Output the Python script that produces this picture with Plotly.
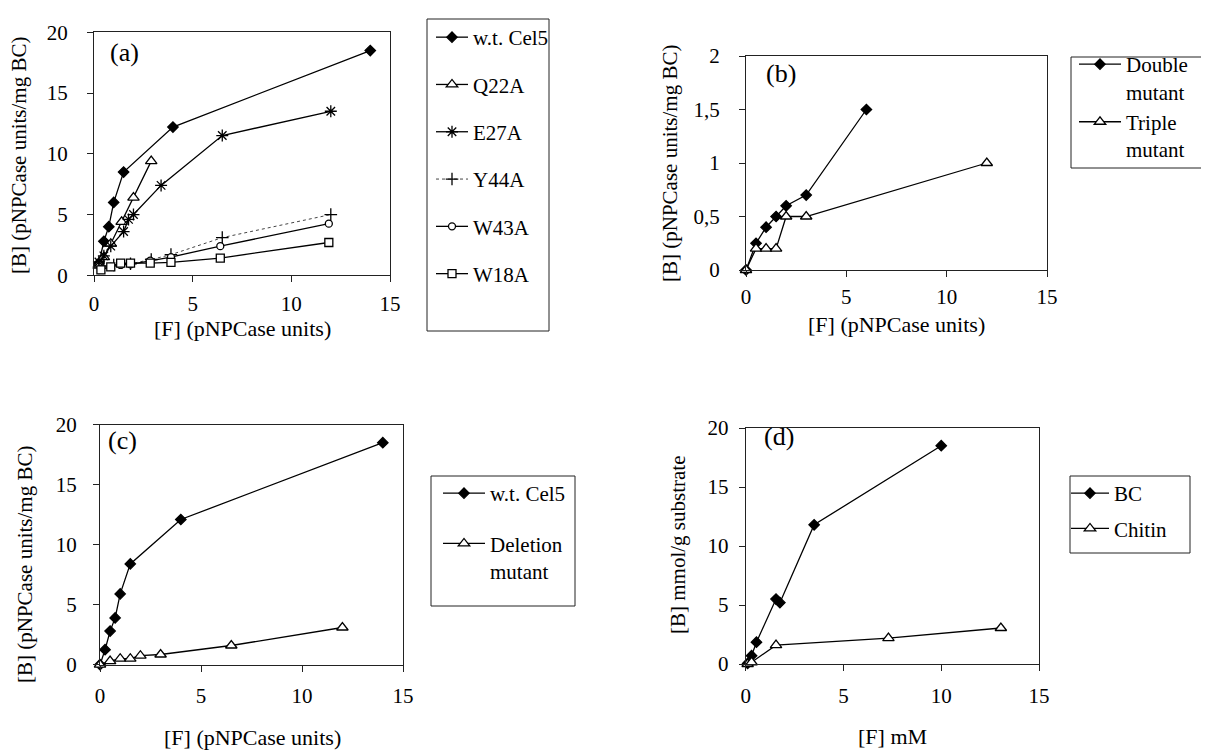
import plotly.graph_objects as go

# ---------------- data ----------------
# panel (a)
a_wt_x = [0.25, 0.5, 0.75, 1.0, 1.5, 4.0, 14.0]
a_wt_y = [1.0, 2.8, 4.0, 6.0, 8.5, 12.2, 18.5]
a_q22_x = [0.25, 0.5, 0.85, 1.4, 2.0, 2.9]
a_q22_y = [0.9, 1.5, 2.6, 4.4, 6.4, 9.4]
a_e27_x = [0.25, 0.5, 0.85, 1.5, 1.75, 2.0, 3.4, 6.5, 12.0]
a_e27_y = [1.1, 1.6, 2.4, 3.6, 4.6, 5.0, 7.4, 11.5, 13.5]
a_y44_x = [0.25, 0.5, 1.0, 1.85, 2.9, 3.9, 6.5, 12.0]
a_y44_y = [0.6, 0.75, 0.85, 0.95, 1.3, 1.7, 3.1, 5.0]
a_w43_x = [0.35, 0.85, 1.35, 1.85, 2.85, 3.9, 6.4, 11.9]
a_w43_y = [0.5, 0.7, 0.85, 0.9, 1.2, 1.5, 2.4, 4.25]
a_w18_x = [0.35, 0.85, 1.35, 1.85, 2.85, 3.9, 6.4, 11.9]
a_w18_y = [0.45, 0.7, 1.0, 1.0, 1.0, 1.07, 1.42, 2.7]
# panel (b)
b_dbl_x = [0, 0.5, 1.0, 1.5, 2.0, 3.0, 6.0]
b_dbl_y = [0, 0.25, 0.4, 0.5, 0.6, 0.7, 1.5]
b_tri_x = [0, 0.5, 1.0, 1.5, 2.0, 3.0, 12.0]
b_tri_y = [0, 0.2, 0.2, 0.2, 0.5, 0.5, 1.0]
# panel (c)
c_wt_x = [0, 0.25, 0.5, 0.75, 1.0, 1.5, 4.0, 14.0]
c_wt_y = [0, 1.25, 2.8, 3.9, 5.9, 8.4, 12.1, 18.5]
c_del_x = [0, 0.5, 1.0, 1.5, 2.0, 3.0, 6.5, 12.0]
c_del_y = [0, 0.3, 0.5, 0.5, 0.75, 0.85, 1.6, 3.1]
# panel (d)
d_bc_x = [0.1, 0.3, 0.55, 1.55, 1.75, 3.5, 10.0]
d_bc_y = [0.05, 0.7, 1.85, 5.5, 5.2, 11.8, 18.5]
d_ch_x = [0.1, 0.3, 1.55, 7.3, 13.05]
d_ch_y = [0.0, 0.15, 1.6, 2.2, 3.05]

x_ticks = [0, 5, 10, 15]
y_ticks_big = [0, 5, 10, 15, 20]
y_ticks_small = [0, 0.5, 1, 1.5, 2]

# ---------------- layout helpers ----------------
W, H = 1209, 752
FONT = "Liberation Serif"


def px(x):
    return x / W


def py(y):
    return 1 - y / H


fig = go.Figure()


def add(x, y, name, xa, ya, legend, symbol, size, width=1.3, color="black",
        fill="white", dash="solid"):
    fig.add_trace(go.Scatter(
        x=x, y=y, name=name, xaxis=xa, yaxis=ya, legend=legend,
        legendgroup=legend + name,
        mode="lines+markers", cliponaxis=False,
        line=dict(color=color, width=width, dash=dash),
        marker=dict(symbol=symbol, size=size, color=fill,
                    line=dict(color="black", width=1.3)),
    ))


add(a_wt_x, a_wt_y, "w.t. Cel5", "x", "y", "legend", "diamond", 8, fill="black")
add(a_q22_x, a_q22_y, "Q22A", "x", "y", "legend", "triangle-up", 10)
add(a_e27_x, a_e27_y, "E27A", "x", "y", "legend", "asterisk-open", 10, fill="black")
add(a_y44_x, a_y44_y, "Y44A", "x", "y", "legend", "cross-thin-open", 9,
    width=1, color="#444", fill="black", dash="dot")
add(a_w43_x, a_w43_y, "W43A", "x", "y", "legend", "circle", 7)
add(a_w18_x, a_w18_y, "W18A", "x", "y", "legend", "square", 8)

add(b_dbl_x, b_dbl_y, "Double<br>mutant", "x2", "y2", "legend2", "diamond", 8, fill="black")
add(b_tri_x, b_tri_y, "Triple<br>mutant", "x2", "y2", "legend2", "triangle-up", 10)

add(c_wt_x, c_wt_y, "w.t. Cel5", "x3", "y3", "legend3", "diamond", 8, fill="black")
add(c_del_x, c_del_y, "Deletion<br>mutant", "x3", "y3", "legend3", "triangle-up", 10)

add(d_bc_x, d_bc_y, "BC", "x4", "y4", "legend4", "diamond", 8, fill="black")
add(d_ch_x, d_ch_y, "Chitin", "x4", "y4", "legend4", "triangle-up", 10)

axcommon = dict(showline=True, linecolor="#222", linewidth=1, mirror=True,
                ticks="outside", ticklen=6, tickcolor="#222", tickwidth=1,
                showgrid=False, zeroline=False,
                tickfont=dict(family=FONT, size=21, color="black"))

# panel frames (px): (left, right, top, bottom)
panels = {
    "a": (86, 382, 24.3, 267.3),
    "b": (738, 1039, 48, 262),
    "c": (92, 395, 416.7, 656.7),
    "d": (737.7, 1031, 420, 656),
}

layout_axes = {}
for i, (key, yt, ystand, xstand) in enumerate([
        ("a", y_ticks_big, 15, 3),
        ("b", y_ticks_small, 15, 2),
        ("c", y_ticks_big, 12, 6),
        ("d", y_ticks_big, 6, 7)]):
    l, r, t, b = panels[key]
    sfx = "" if i == 0 else str(i + 1)
    layout_axes["xaxis" + sfx] = dict(
        axcommon, domain=[px(l), px(r)], anchor="y" + sfx, range=[0, 15],
        tickvals=x_ticks, ticklabelstandoff=xstand)
    layout_axes["yaxis" + sfx] = dict(
        axcommon, domain=[py(b), py(t)], anchor="x" + sfx,
        range=[0, 2] if key == "b" else [0, 20], tickvals=yt,
        ticklabelstandoff=ystand)

fig.update_layout(**layout_axes)


def legend_cfg(xl, yt, itemwidth, gap):
    return dict(x=px(xl), y=py(yt), xanchor="left", yanchor="top",
                xref="paper", yref="paper",
                font=dict(family=FONT, size=21, color="black"),
                bgcolor="rgba(0,0,0,0)", borderwidth=0,
                itemwidth=itemwidth, tracegroupgap=gap, valign="top",
                itemclick=False, itemdoubleclick=False)


fig.update_layout(
    legend=legend_cfg(423, 9, 32, 17),
    legend2=legend_cfg(1066, 36, 42, 0),
    legend3=legend_cfg(430, 465, 42, 20),
    legend4=legend_cfg(1058, 465, 38, 5),
)

# legend boxes
boxes = [(419, 541, 11, 323), (1063, 1208, 49, 160), (423, 567, 468, 598),
         (1062, 1182, 468, 545)]
shapes = []
for (x0, x1, y0, y1) in boxes:
    shapes.append(dict(type="rect", xref="paper", yref="paper",
                       x0=px(x0), x1=px(x1), y0=py(y1), y1=py(y0),
                       line=dict(color="#222", width=1), fillcolor="rgba(0,0,0,0)"))

annotations = []


def text(x, y, s, size=22, angle=0):
    annotations.append(dict(x=px(x), y=py(y), xref="paper", yref="paper",
                            text=s, showarrow=False, textangle=angle,
                            xanchor="center", yanchor="middle",
                            font=dict(family=FONT, size=size, color="black")))


# panel labels
text(116, 44, "(a)", 26)
text(773, 65, "(b)", 26)
text(114, 432, "(c)", 26)
text(771, 428, "(d)", 26)
# axis titles
text(234, 321, "[F] (pNPCase units)")
text(888, 316, "[F] (pNPCase units)")
text(244, 729, "[F] (pNPCase units)")
text(884, 728, "[F] mM")
text(11, 148, "[B] (pNPCase units/mg BC)", size=21, angle=-90)
text(662, 155, "[B] (pNPCase units/mg BC)", size=21, angle=-90)
text(17, 557, "[B] (pNPCase units/mg BC)", size=21, angle=-90)
text(670, 537, "[B] mmol/g substrate", size=21, angle=-90)

fig.update_layout(
    width=W, height=H,
    margin=dict(l=0, r=0, t=0, b=0, autoexpand=False),
    paper_bgcolor="white", plot_bgcolor="white",
    separators=", ",
    shapes=shapes, annotations=annotations,
    showlegend=True,
)

fig.write_html("out.html")
